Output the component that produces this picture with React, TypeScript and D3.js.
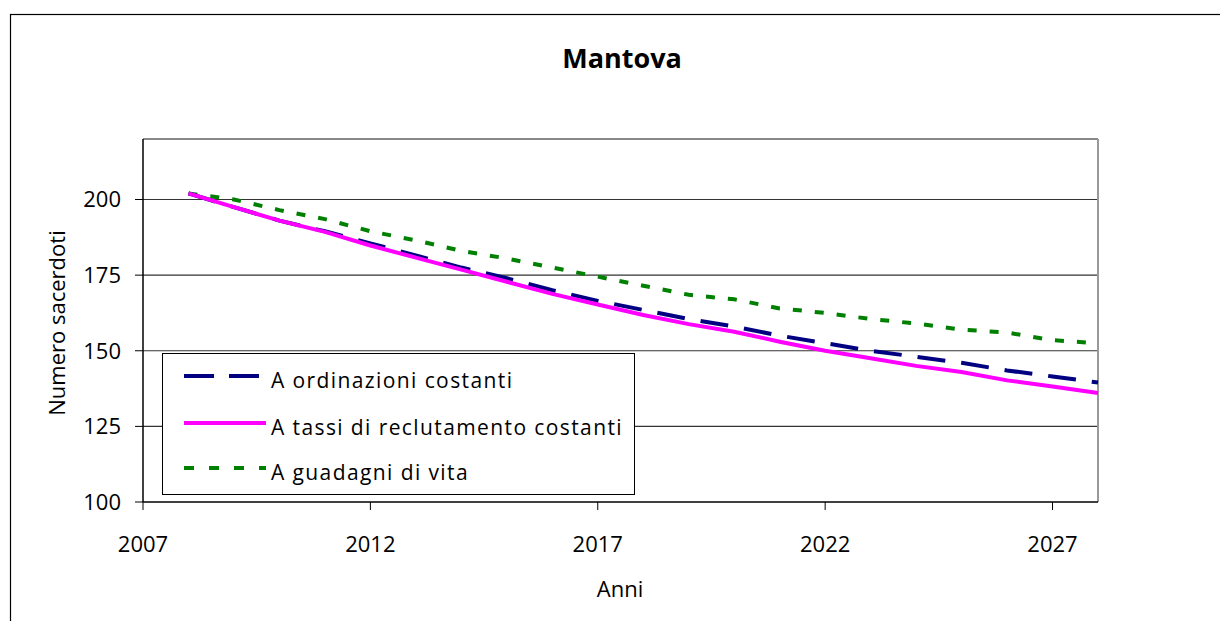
import React from "react";
import * as d3 from "d3";

const years = [2008, 2009, 2010, 2011, 2012, 2013, 2014, 2015, 2016, 2017, 2018, 2019, 2020, 2021, 2022, 2023, 2024, 2025, 2026, 2027, 2028];
const ordinazioniCostanti = [202, 197.5, 193, 189.5, 185.5, 181.5, 177.5, 174, 170, 166.5, 163.5, 160.5, 158, 155, 152.5, 150, 148, 146, 143.5, 141.5, 139.5];
const tassiReclutamento = [202, 197.5, 193, 189.3, 184.8, 180.8, 176.8, 172.8, 168.8, 165.3, 161.8, 158.8, 156.3, 153, 150, 147.5, 145, 143, 140.2, 138.2, 136];
const guadagniVita = [202, 200, 196.5, 193.5, 189.5, 186.5, 183, 180.5, 177.5, 174.5, 171.5, 168.5, 167, 164, 162.5, 160.5, 159, 157, 156, 153.5, 152.5];
const xTicks = [2007, 2012, 2017, 2022, 2027];
const yTicks = [100, 125, 150, 175, 200];
const seriesNames = ["A ordinazioni costanti", "A tassi di reclutamento costanti", "A guadagni di vita"];

const FONT = "'Open Sans', 'Noto Sans', sans-serif";

export default function App() {
  const left = 143, right = 1098, top = 139, bottom = 502;
  const x = d3.scaleLinear().domain([2007, 2028]).range([left, right]);
  const y = d3.scaleLinear().domain([100, 220]).range([bottom, top]);
  const line = d3.line<number>().x((_, i) => x(years[i])).y((d) => y(d));

  const series = [
    { name: seriesNames[0], values: ordinazioniCostanti, color: "#000080", dash: "28,16" },
    { name: seriesNames[1], values: tassiReclutamento, color: "#FF00FF", dash: "none" },
    { name: seriesNames[2], values: guadagniVita, color: "#008000", dash: "9,13" },
  ];
  const drawOrder = [2, 0, 1];

  const legendRows = [380, 427, 472];

  return (
    <svg width={1220} height={621} style={{ position: "absolute", left: 0, top: 0, background: "#fff" }} fontFamily={FONT}>
      <rect x={10.5} y={14.5} width={1400} height={800} fill="#fff" stroke="#000" strokeWidth={1.2} />
      <text x={622} y={68} textAnchor="middle" fontSize={27} fontWeight="bold" fill="#000">Mantova</text>

      {/* gridlines */}
      {yTicks.filter((t) => t > 100).map((t) => (
        <line key={t} x1={left} x2={right} y1={y(t)} y2={y(t)} stroke="#333" strokeWidth={1.2} />
      ))}
      {/* plot frame top/right */}
      <line x1={left} x2={right} y1={top} y2={top} stroke="#888" strokeWidth={2} />
      <line x1={right} x2={right} y1={top} y2={bottom} stroke="#999" strokeWidth={2} />

      {/* axes */}
      <line x1={left} x2={left} y1={top} y2={bottom} stroke="#000" strokeWidth={1.5} />
      <line x1={left} x2={right} y1={bottom} y2={bottom} stroke="#000" strokeWidth={1.5} />
      {yTicks.map((t) => (
        <g key={t}>
          <line x1={left - 8} x2={left} y1={y(t)} y2={y(t)} stroke="#000" strokeWidth={1} />
          <text x={121} y={y(t)} dy="0.36em" textAnchor="end" fontSize={22} fill="#000">{t}</text>
        </g>
      ))}
      {xTicks.map((t) => (
        <g key={t}>
          <line x1={x(t)} x2={x(t)} y1={bottom} y2={bottom + 8} stroke="#000" strokeWidth={1} />
          <text x={x(t)} y={552} textAnchor="middle" fontSize={22} fill="#000">{t}</text>
        </g>
      ))}
      <text x={620} y={597} textAnchor="middle" fontSize={22} fill="#000">Anni</text>
      <text transform="translate(65,323) rotate(-90)" textAnchor="middle" fontSize={22} fill="#000">Numero sacerdoti</text>

      {/* series */}
      {drawOrder.map((i) => {
        const s = series[i];
        return (
          <path key={s.name} d={line(s.values) || ""} fill="none" stroke={s.color} strokeWidth={4}
            strokeDasharray={s.dash} />
        );
      })}

      {/* legend */}
      <rect x={162.5} y={353.5} width={472} height={141} fill="#fff" stroke="#000" strokeWidth={1} />
      {series.map((s, i) => (
        <g key={s.name}>
          <line x1={184} x2={266} y1={legendRows[i] - 4} y2={legendRows[i] - 4} stroke={s.color} strokeWidth={4}
            strokeDasharray={i === 0 ? "30,15" : i === 2 ? "10,15" : "none"} />
          <text x={271} y={legendRows[i]} dy="0.36em" fontSize={21} letterSpacing={1.4} fill="#000">{s.name}</text>
        </g>
      ))}
    </svg>
  );
}
